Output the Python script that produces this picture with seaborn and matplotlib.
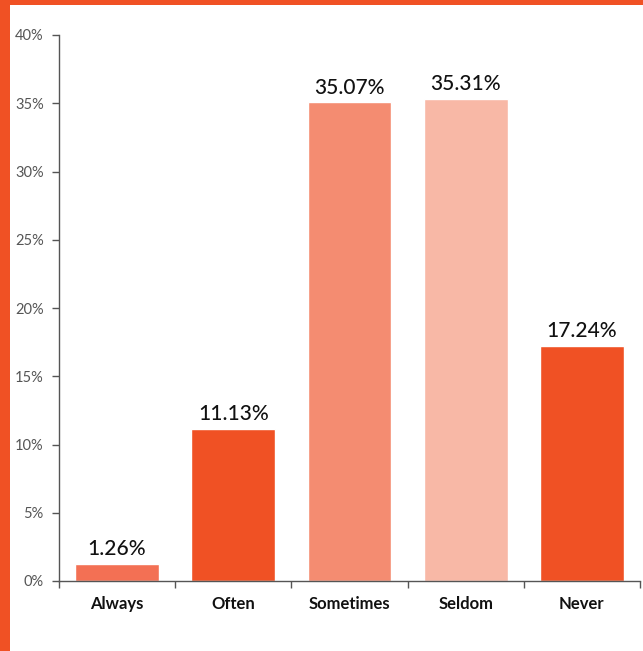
import matplotlib
matplotlib.use("Agg")
import matplotlib.pyplot as plt
import matplotlib.patches as mpatches
from matplotlib.ticker import FuncFormatter, MultipleLocator
import seaborn as sns
import pandas as pd

categories = ["Always", "Often", "Sometimes", "Seldom", "Never"]
shares = [1.26, 11.13, 35.07, 35.31, 17.24]
bar_colors = ["#F37054", "#F05124", "#F48C71", "#F8B8A6", "#F05124"]

df = pd.DataFrame({"answer": categories, "share": shares})

sns.set_theme(style="white")
plt.rcParams["font.family"] = ["Lato", "DejaVu Sans"]

fig = plt.figure(figsize=(6.43, 6.51), dpi=100)
ax = fig.add_axes([59 / 643, 1 - 581 / 651, 581 / 643, 546 / 651])

sns.barplot(data=df, x="answer", y="share", hue="answer", palette=bar_colors,
            legend=False, width=0.72, saturation=1, ax=ax)

ax.set_ylim(0, 40)
ax.set_xlim(-0.5, len(categories) - 0.5)
ax.yaxis.set_major_locator(MultipleLocator(5))
ax.yaxis.set_major_formatter(FuncFormatter(lambda v, _: f"{v:.0f}%"))
ax.set_xlabel("")
ax.set_ylabel("")

for side in ("top", "right"):
    ax.spines[side].set_visible(False)
for side in ("left", "bottom"):
    ax.spines[side].set_color("#555555")
    ax.spines[side].set_linewidth(1.0)

ax.tick_params(axis="y", which="major", left=True, length=5, width=1,
               color="#555555", labelsize=10.5, labelcolor="#555555", pad=6)
# category labels centred under bars, tick marks at the category boundaries
ax.set_xticks(range(len(categories)))
ax.set_xticklabels(categories, fontsize=12, color="#111111", fontweight="bold")
ax.tick_params(axis="x", which="major", bottom=False, pad=5)
ax.set_xticks([i - 0.5 for i in range(len(categories) + 1)], minor=True)
ax.tick_params(axis="x", which="minor", bottom=True, length=5, width=1, color="#555555")

for i, v in enumerate(shares):
    ax.text(i, v + 0.35, f"{v:.2f}%", ha="center", va="bottom",
            fontsize=15, color="#111111", fontweight="medium")

# frame strips along the left and top edges
fig.patches.append(mpatches.Rectangle((0, 0), 10 / 643, 1, transform=fig.transFigure,
                                      facecolor="#F05124", edgecolor="none", zorder=-1))
fig.patches.append(mpatches.Rectangle((0, 1 - 5 / 651), 1, 5 / 651, transform=fig.transFigure,
                                      facecolor="#F05124", edgecolor="none", zorder=-1))

fig.savefig("out.png", dpi=100)
